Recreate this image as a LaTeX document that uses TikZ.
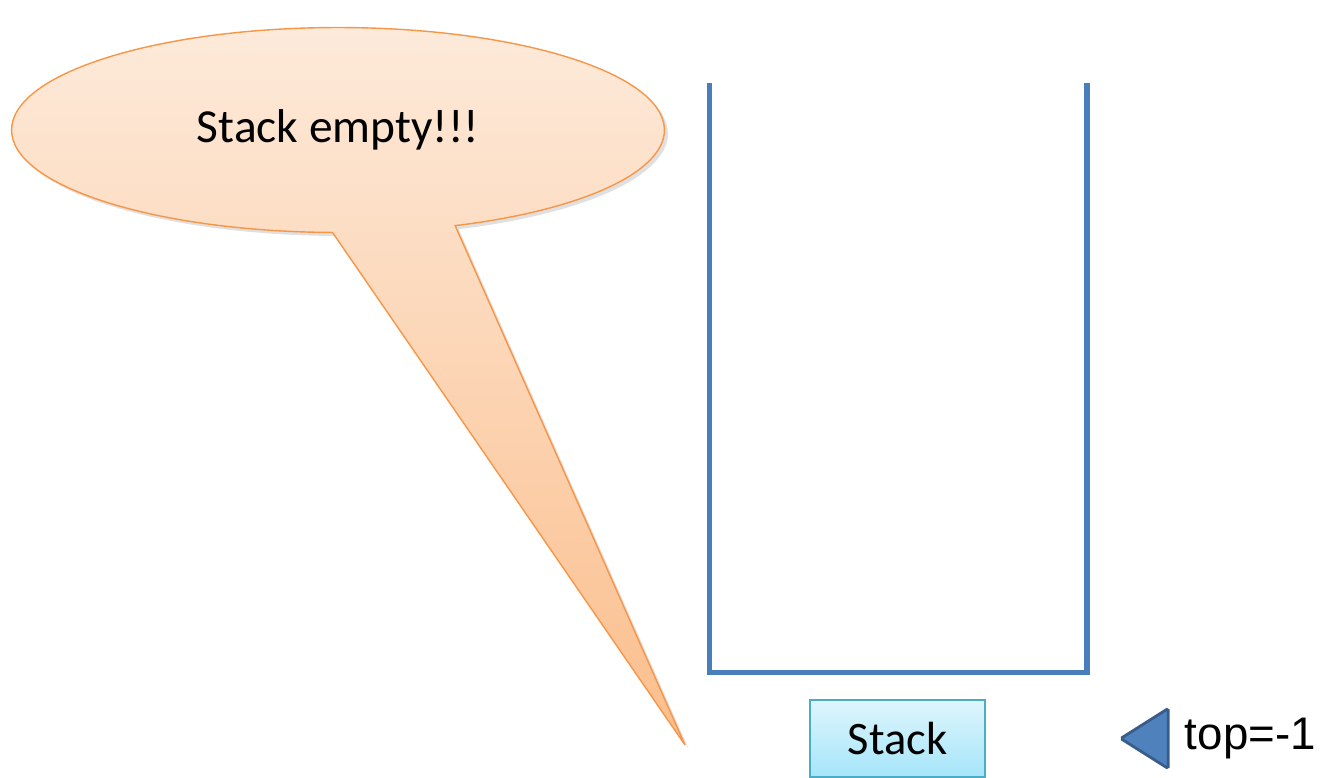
\documentclass[tikz,border=0pt]{standalone}
\usepackage{fontspec}
\setmainfont{Carlito}
\newfontfamily\labelfont{Liberation Sans}
\usetikzlibrary{shapes.geometric, shapes.callouts, shadows, positioning, calc}
\definecolor{wallblue}{RGB}{74,126,187}
\definecolor{bubbleedge}{RGB}{247,150,70}
\definecolor{bubbletop}{RGB}{253,234,218}
\definecolor{bubblebot}{RGB}{251,190,140}
\definecolor{tagedge}{RGB}{75,172,198}
\definecolor{tagtop}{RGB}{222,246,253}
\definecolor{tagbot}{RGB}{165,229,249}
\definecolor{markfill}{RGB}{79,129,189}
\definecolor{markedge}{RGB}{56,93,138}
\tikzset{
    bubble/.style={ellipse callout, callout pointer arc=22, draw=bubbleedge, line width=0.8pt, top color=bubbletop, bottom color=bubblebot, minimum width=13.06cm, minimum height=4.1cm, font=\fontsize{27}{30}\selectfont, inner sep=0pt, drop shadow={shadow xshift=2pt, shadow yshift=-2pt, opacity=0.12, fill=black}},
    wall/.style={wallblue, line width=3.4pt},
    tagbox/.style={rectangle, draw=tagedge, line width=0.8pt, top color=tagtop, bottom color=tagbot, minimum width=3.5cm, minimum height=1.54cm, font=\fontsize{26.5}{30}\selectfont},
    marker/.style={isosceles triangle, isosceles triangle stretches, shape border rotate=180, draw=markedge, line width=1.6pt, fill=markfill, rounded corners=1pt, minimum height=0.95cm, minimum width=1.2cm, inner sep=0pt},
}
\begin{document}
\begin{tikzpicture}[x=0.02cm, y=-0.02cm]
\useasboundingbox (0,0) rectangle (1323,778);

% Speech bubble
\coordinate (tip) at (685,745);
\node[bubble, callout absolute pointer={(tip)}] (msg) at (338,130) {\raisebox{4pt}{Stack empty!!!}};

% Stack container
\coordinate (walltl) at (709.5,83);
\coordinate (wallbl) at (709.5,672.5);
\coordinate (wallbr) at (1087,672.5);
\coordinate (walltr) at (1087,83);
\draw[wall] (walltl) -- (wallbl) -- (wallbr) -- (walltr);

% Caption and top pointer
\node[tagbox] (caption) at (897.5,738.5) {Stack};
\node[marker, anchor=apex] (topmark) at (1117,738.5) {};
\node[right=3mm of topmark.east, font=\labelfont\fontsize{26}{30}\selectfont, inner sep=0pt] (toplbl) {top=-1};
\end{tikzpicture}
\end{document}
